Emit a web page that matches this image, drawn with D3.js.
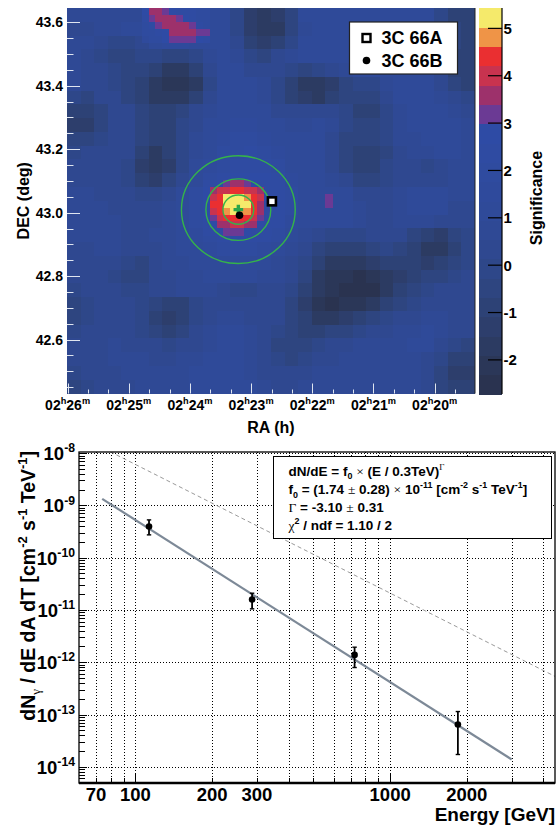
<!DOCTYPE html>
<html>
<head>
<meta charset="utf-8">
<script src="https://cdn.jsdelivr.net/npm/d3@7"></script>
<style>
body { margin: 0; background: #fff; }
svg { display: block; }
text { font-family: "Liberation Sans", Arial, Helvetica, sans-serif; font-weight: bold; fill: #000; }
</style>
</head>
<body>
<svg id="chart" width="556" height="830"></svg>
<script>
// ---------- sky map data ----------
// RA in minutes after 02h, DEC in degrees
const raRange = [26.01, 19.34]
const decRange = [42.43, 43.645]
const raTicksMajor = [26, 25, 24, 23, 22, 21, 20]
const decTicksMajor = [42.6, 42.8, 43.0, 43.2, 43.4, 43.6]
const sigTicks = [-2, -1, 0, 1, 2, 3, 4, 5]
const sigRange = [-2.72, 5.43]

// coarse significance grid (28 rows top->bottom, 30 cols left->right)
const sigRows = [
  [0.8,0.8,0.8,0.8,0.8,0.8,2.5,2.5,2.5,1,1,1,0,-1.2,-1.5,-1.3,-0.5,1,1,1,1,1,1,1,1,1,1,0,-0.8,-0.8],
  [0.5,0.5,0.8,0.8,1,1,2.5,2.5,2.5,2.5,1,1,0,-1.2,-1.7,-1.5,-0.5,0.8,1,1,1,1,1,1,1,1,1,0.5,-0.5,-0.8],
  [0.8,0.8,0.5,0,0,0.5,1,1.5,1.5,1.2,1,1,0.3,-0.8,-1.2,-1,-0.2,1,1,1,1,1,1,1,1,1,1,0.3,-0.5,-0.8],
  [0.8,0.5,0,-0.5,-0.5,0,0,-0.3,-0.3,0,0.8,1,0.8,0,-0.3,0.2,0.6,1,1,1,1,1,1,1,1,1,1,0,-0.8,-1],
  [0.8,0.5,0.2,-0.2,-0.3,-0.5,-1,-1.5,-1.5,-0.8,0.3,1,1,0.5,0.5,0.3,0,-0.3,-0.2,0.3,0.8,1,1,1,1,1,1,0.3,-0.8,-1],
  [0.6,0.3,0.3,0,-0.3,-0.8,-1.8,-2.2,-2.2,-1.5,0,1,1,1,0.8,0,-1,-1.6,-1.8,-1.3,-0.5,-0.2,0,0.6,1,1,1,0.5,-0.3,-0.8],
  [0,-0.3,0.3,0.3,-0.3,-0.8,-1.5,-1.8,-1.5,-0.8,0.3,1,1,1,0.8,0,-0.8,-1.3,-1.5,-1,-0.6,-0.5,-0.3,0.5,1,1,1,0.8,0.3,0],
  [-1,-1,-0.3,0.3,0.2,-0.5,-1,-1,-0.5,0.3,0.8,1,1.2,1.3,1,0.5,0.2,0.3,0.5,0.5,0,-0.8,-0.8,0,0.8,1,1,1,0.8,0.5],
  [-1.3,-1.2,-0.5,0.3,0.3,-0.3,-1,-0.8,-0.2,0.5,1,1.2,1.5,1.5,1.2,1,0.8,0.8,1,0.8,0,-0.5,-0.6,0,0.8,1,1,1,1,0.8],
  [-0.6,-0.5,0,0.5,0.5,-0.3,-1,-0.8,0,0.8,1.2,1.5,1.8,1.8,1.5,1.2,1,1,1,0.5,-0.3,-0.5,-0.5,0,0.6,0.8,1,1,1,0.8],
  [0,0.2,0.5,0.5,0.2,-0.8,-1.5,-1,0,0.8,1.3,1.8,2,2.2,1.8,1.5,1.2,1,1,0.5,-0.3,-1,-1,-0.3,0.5,0.8,0.8,1,1,0.8],
  [0.3,0.5,0.5,0.3,0,-1.2,-1.8,-1.2,0,1,1.5,2,2.3,2.5,2.2,1.8,1.3,1,1,0.5,-0.3,-1,-1,-0.2,0.5,0.3,0,0.3,0.8,0.8],
  [0.5,0.5,0.5,0.3,0,-0.8,-1.2,-0.5,0.5,1.2,2,2.5,2.8,2.8,2.6,2.2,1.5,1.2,1,0.8,0.3,-0.5,-0.6,0,0.5,0.5,0.3,0.5,0.8,0.8],
  [0.6,0.6,0.5,0.5,0.3,0,0,0.5,1.2,1.8,2.5,2.8,2.8,2.8,2.8,2.5,1.8,1.3,1.2,1.2,1,0.5,0.3,0.5,0.8,1,1,1,0.8,0.8],
  [0.6,0.6,0.6,0.5,0.5,0.3,0.3,0.6,1.2,1.8,2.5,2.8,2.8,2.8,2.8,2.5,1.8,1.3,1.2,1.3,1.2,0.8,0.5,0.5,0.8,1,1,1,0.5,0.3],
  [0.6,0.6,0.6,0.6,0.5,0.5,0.5,0.8,1.2,1.8,2.4,2.8,2.8,2.8,2.8,2.2,1.5,1.2,1,1,1,0.8,0.5,0.5,0.6,0.8,0.8,0.5,0.3,0.3],
  [0.6,0.6,0.6,0.6,0.5,0.5,0.6,0.8,1,1.5,2,2.5,2.6,2.5,2.3,1.8,1.2,0.8,0.3,0,-0.2,0,0.3,0.5,0.3,-0.3,-1,-1.2,-0.5,0],
  [0.5,0.5,0.6,0.6,0.3,0.3,0.5,0.8,1,1.2,1.5,1.8,2,1.8,1.5,1.2,0.8,0.3,-0.3,-0.8,-1,-0.8,-0.3,0,-0.3,-0.8,-1.8,-1.8,-0.8,0],
  [0.5,0.5,0.5,0.3,0,-0.3,0.3,0.6,0.8,1,1.2,1.3,1.3,1.2,1,0.8,0.5,0,-0.8,-1.5,-1.8,-1.8,-1.3,-1,-0.8,-0.8,-1.2,-1,-0.5,0],
  [0.3,0.3,0.3,0,-0.5,-0.5,0.2,0.5,0.6,0.8,1,1,1,1,0.8,0.6,0.3,-0.5,-1.5,-2,-2.3,-2.5,-2.2,-1.8,-1.2,-0.8,-0.5,-0.3,0,0.3],
  [0,0.2,0.5,0.3,0,0,0.3,0.5,0.6,0.6,0.6,0.5,0,0,0.3,0.3,0,-0.8,-1.8,-2.3,-2.6,-2.6,-2.4,-1.8,-1,-0.5,0,0.3,0.5,0.5],
  [-0.3,0,0.3,0.3,0.3,0,-0.5,-1,-0.8,0,0.5,0.5,0.3,0.3,0.5,0.3,-0.3,-1.2,-2.2,-2.4,-2.3,-2,-1.5,-1,-0.3,0,0.5,0.5,0.5,0.5],
  [-0.3,0,0.3,0.5,0.3,0,-0.8,-1.3,-1,0,0.5,0.8,0.8,0.5,0.5,0.3,-0.3,-1,-1.8,-1.8,-1.2,-0.8,-0.3,0,0.3,0.5,0.8,0.8,0.5,0.5],
  [0,0.3,0.5,0.5,0.3,0,-0.3,-0.8,-0.5,0.3,0.8,1,1,0.8,0.5,0,-0.5,-0.8,-0.8,-0.5,-0.3,0,0.3,0.5,0.6,0.8,1,0.8,0.5,0.3],
  [0.3,0.5,0.5,0.6,0.5,0.5,0.3,0,0.3,0.5,0.8,1,1,0.8,0.3,-0.3,-0.5,-0.3,0,0.3,0.5,0.6,0.8,0.8,0.8,1,1,0.5,0,-0.3],
  [0.3,0.3,0.5,0.6,0.6,0.6,0.5,0.5,0.6,0.8,1,1,1,0.8,0.3,-0.2,-0.3,0,0.3,0.5,0.8,0.8,0.8,0.8,0.8,0.8,0.5,0,-0.8,-1],
  [0,0.2,0.5,0.5,0.6,0.6,0.6,0.8,0.8,1,1,1,1,0.8,0.5,0.3,0.3,0.5,0.6,0.8,0.8,0.8,0.8,0.8,0.8,0.6,0.3,-0.5,-1.2,-1.2],
  [-0.3,0,0.3,0.5,0.5,0.6,0.6,0.8,0.8,1,1,1,1,1,0.8,0.5,0.5,0.6,0.8,0.8,0.8,0.8,0.8,0.8,0.8,0.6,0.3,-0.3,-1,-1]
]

// fine-bin patches (60 x 56 fine bins over the same field)
const sourceSig = [
  [2.5,2.5,2.8,3.2,3.5,3.5,3.3,2.8,2.5,2.5],
  [2.6,3.5,3.9,4.2,4.3,4.3,4.1,3.9,3.5,2.5],
  [2.8,3.9,4.4,5.1,5.2,5.1,4.8,4.4,3.9,2.6],
  [2.9,4.3,4.6,5.2,5.3,5.3,5.1,4.4,3.5,2.5],
  [2.8,3.9,4.4,4.9,5.1,5.0,4.8,4.3,3.5,2.4],
  [2.6,3.3,4.0,4.4,4.5,4.5,4.3,4.0,3.3,2.4],
  [2.4,2.8,3.4,3.7,3.8,3.8,3.7,3.4,2.8,2.4],
  [2.3,2.5,2.6,3.0,3.1,3.0,2.8,2.5,2.4,2.3]
]
const ridgeSig = [
  [2.6,3.5,3.6,3.3,2.8,2.5,2.3,2.2,2.0,2.0],
  [2.3,3.2,3.6,3.7,3.6,3.3,2.6,2.3,2.1,2.0],
  [2.0,2.4,3.0,3.6,3.7,3.7,3.5,3.1,2.4,2.0],
  [1.8,2.0,2.4,2.9,3.6,3.7,3.6,3.5,3.1,3.0],
  [1.6,1.8,2.0,2.6,3.1,3.2,3.1,3.1,2.8,2.2]
]
const spotSig = [[3.1], [3.1]]

// fitted position and markers
const fitPos = { ra: 23.209, dec: 43.0095 }
const circleRadii = [0.046, 0.097, 0.170]
const sources = [
  { name: '3C 66A', ra: 22.66, dec: 43.0356, symbol: 'square' },
  { name: '3C 66B', ra: 23.19, dec: 42.9919, symbol: 'circle' }
]

// ---------- spectrum data ----------
const energies = [113, 287, 725, 1845]
const flux = [3.94e-10, 1.58e-11, 1.38e-12, 6.44e-14]
const fluxHi = [5.28e-10, 2.09e-11, 1.94e-12, 1.14e-13]
const fluxLo = [2.73e-10, 1.05e-11, 7.92e-13, 1.72e-14]
const fitNorm = 1.74e-11
const fitIndex = -3.10
const fitRange = [74, 3000]
const refNorm = 2.1e-11
const refIndex = -2.46
const energyRange = [60, 4440]
const fluxRange = [4.9e-15, 1.05e-8]
const energyLabels = [70, 100, 200, 300, 1000, 2000]
const decadeExps = [-14, -13, -12, -11, -10, -9, -8]

const palette = [
  '#2a3350', '#2b3758', '#2c3b62', '#2d3e6c', '#2d4276', '#2e4580', '#2e4789',
  '#2f4890', '#2f4995', '#2f4a99', '#2f4a9c', '#2f4b9f', '#2f4ba2', '#2e4ba5',
  '#6b3a94', '#9d316b', '#c8334f', '#ea2f31', '#ef9447', '#f5ea6b'
]

const svg = d3.select('#chart')
const serif = '"Liberation Serif", "Times New Roman", serif'
const px = v => Math.round(v) + 0.5

// text with super/subscripts: parts = [[text, mode, serif?]]
function richText (sel, parts, size) {
  let shift = 0
  parts.forEach(([t, mode, useSerif]) => {
    const target = mode === 'sup' ? -size * 0.42 : mode === 'sub' ? size * 0.28 : 0
    const small = mode === 'sup' || mode === 'sub'
    const ts = sel.append('tspan')
      .attr('dy', target - shift)
      .attr('font-size', small ? size * 0.66 : size)
      .text(t)
    if (useSerif) ts.style('font-family', serif).style('font-weight', 'normal')
    shift = target
  })
}

// ================= TOP PANEL: significance map =================
const mapLeft = 67, mapRight = 475, mapTop = 8, mapBottom = 393.5
const xRa = d3.scaleLinear().domain(raRange).range([mapLeft, mapRight])
const yDec = d3.scaleLinear().domain(decRange).range([mapBottom, mapTop])
const color = d3.scaleQuantize().domain(sigRange).range(palette)

const gMap = svg.append('g').attr('class', 'map')
  .attr('shape-rendering', 'crispEdges')

function drawCells (values, nCols, nRows, col0, row0) {
  const dRa = (raRange[0] - raRange[1]) / nCols
  const dDec = (decRange[1] - decRange[0]) / nRows
  values.forEach((row, r) => {
    row.forEach((v, c) => {
      const x0 = xRa(raRange[0] - (col0 + c) * dRa)
      const x1 = xRa(raRange[0] - (col0 + c + 1) * dRa)
      const y0 = yDec(decRange[1] - (row0 + r) * dDec)
      const y1 = yDec(decRange[1] - (row0 + r + 1) * dDec)
      gMap.append('rect')
        .attr('x', x0).attr('y', y0)
        .attr('width', Math.min(x1 - x0 + 0.6, mapRight - x0))
        .attr('height', Math.min(y1 - y0 + 0.6, mapBottom - y0))
        .attr('fill', color(v))
    })
  })
}
drawCells(sigRows, 30, 28, 0, 0)
drawCells(ridgeSig, 60, 56, 11, 0)
drawCells(sourceSig, 60, 56, 20, 25)
drawCells(spotSig, 60, 56, 38, 27)

// frame right edge
svg.append('line')
  .attr('x1', mapRight).attr('x2', mapRight).attr('y1', mapTop).attr('y2', mapBottom)
  .attr('stroke', '#222').attr('stroke-width', 1)

// ticks (light, drawn inside the map)
const tickColor = '#dfe5f0'
const raMinor = d3.range(19.333, 26.01, 1 / 3).filter(m => m > raRange[1] && m < raRange[0])
const gTicks = svg.append('g').attr('stroke', tickColor).attr('stroke-width', 1)
raMinor.forEach(m => {
  const major = Math.abs(m - Math.round(m)) < 0.01
  gTicks.append('line')
    .attr('x1', px(xRa(m))).attr('x2', px(xRa(m)))
    .attr('y1', mapBottom).attr('y2', mapBottom - (major ? 10 : 4))
})
d3.range(42.45, 43.65, 0.05).forEach(d => {
  const major = Math.abs(d * 5 - Math.round(d * 5)) < 0.01
  gTicks.append('line')
    .attr('x1', mapLeft).attr('x2', mapLeft + (major ? 13 : 6.5))
    .attr('y1', px(yDec(d))).attr('y2', px(yDec(d)))
})

// RA labels
raTicksMajor.forEach(m => {
  const t = svg.append('text')
    .attr('x', xRa(m)).attr('y', 410)
    .attr('text-anchor', 'middle')
  richText(t, [['02'], ['h', 'sup'], [String(m)], ['m', 'sup']], 14)
})
decTicksMajor.forEach(d => {
  svg.append('text')
    .attr('x', 63).attr('y', yDec(d))
    .attr('text-anchor', 'end').attr('dominant-baseline', 'central')
    .attr('font-size', 14)
    .text(d.toFixed(1))
})
svg.append('text')
  .attr('x', (mapLeft + mapRight) / 2).attr('y', 433)
  .attr('text-anchor', 'middle').attr('font-size', 16)
  .text('RA (h)')
svg.append('text')
  .attr('transform', `translate(28.5,${(mapTop + mapBottom) / 2}) rotate(-90)`)
  .attr('text-anchor', 'middle').attr('font-size', 16)
  .text('DEC (deg)')

// exclusion / fit circles
const cosDec = Math.cos(fitPos.dec * Math.PI / 180)
const gFit = svg.append('g')
circleRadii.forEach(r => {
  const rx = Math.abs(xRa(fitPos.ra) - xRa(fitPos.ra + r / (0.25 * cosDec)))
  const ry = Math.abs(yDec(fitPos.dec) - yDec(fitPos.dec + r))
  gFit.append('ellipse')
    .attr('cx', xRa(fitPos.ra)).attr('cy', yDec(fitPos.dec))
    .attr('rx', rx).attr('ry', ry)
    .attr('fill', 'none').attr('stroke', '#35b34a').attr('stroke-width', 1.4)
})

// source markers
sources.forEach(s => {
  const cx = xRa(s.ra), cy = yDec(s.dec)
  if (s.symbol === 'square') {
    svg.append('rect')
      .attr('x', cx - 4).attr('y', cy - 4).attr('width', 8).attr('height', 8)
      .attr('fill', '#fff').attr('stroke', '#000').attr('stroke-width', 2.6)
  } else {
    svg.append('circle')
      .attr('cx', cx).attr('cy', cy).attr('r', 3.8).attr('fill', '#000')
  }
})

// fitted position cross
const fx = xRa(fitPos.ra), fy = yDec(fitPos.dec)
gFit.append('path')
  .attr('d', `M${fx - 4.8},${fy}H${fx + 4.8}M${fx},${fy - 4.8}V${fy + 4.8}`)
  .attr('stroke', '#2aa64a').attr('stroke-width', 3.4)

// legend
const gLeg = svg.append('g')
gLeg.append('rect')
  .attr('x', 349.5).attr('y', 22).attr('width', 108).attr('height', 52)
  .attr('fill', '#fff').attr('stroke', '#222').attr('stroke-width', 1.2)
sources.forEach((s, i) => {
  const ly = 38 + i * 22.5
  if (s.symbol === 'square') {
    gLeg.append('rect')
      .attr('x', 362.5).attr('y', ly - 4).attr('width', 8).attr('height', 8)
      .attr('fill', '#fff').attr('stroke', '#000').attr('stroke-width', 2.4)
  } else {
    gLeg.append('circle').attr('cx', 366.5).attr('cy', ly).attr('r', 3.8).attr('fill', '#000')
  }
  gLeg.append('text')
    .attr('x', 381.5).attr('y', ly + 6.3)
    .attr('font-size', 18)
    .text(s.name)
})

// colour bar
const cbLeft = 478.5, cbRight = 502
const ySig = d3.scaleLinear().domain(sigRange).range([394, 8])
const step = (sigRange[1] - sigRange[0]) / palette.length
const gCb = svg.append('g').attr('shape-rendering', 'crispEdges')
palette.forEach((c, i) => {
  const lo = sigRange[0] + i * step
  gCb.append('rect')
    .attr('x', cbLeft).attr('width', cbRight - cbLeft)
    .attr('y', ySig(lo + step)).attr('height', ySig(lo) - ySig(lo + step) + 0.5)
    .attr('fill', c)
})
svg.append('line')
  .attr('x1', cbRight).attr('x2', cbRight).attr('y1', 8).attr('y2', 394)
  .attr('stroke', '#000').attr('stroke-width', 1.2)
sigTicks.forEach(v => {
  svg.append('line')
    .attr('x1', cbRight - 14).attr('x2', cbRight)
    .attr('y1', ySig(v)).attr('y2', ySig(v))
    .attr('stroke', '#000').attr('stroke-width', 1.2)
  svg.append('text')
    .attr('x', 503.5).attr('y', ySig(v))
    .attr('dominant-baseline', 'central').attr('font-size', 15)
    .text(v < 0 ? '-' + Math.abs(v) : String(v))
})
svg.append('text')
  .attr('transform', 'translate(541.5,198) rotate(-90)')
  .attr('text-anchor', 'middle').attr('font-size', 16)
  .text('Significance')

// ================= BOTTOM PANEL: spectrum =================
const pLeft = 79, pRight = 555, pTop = 452, pBottom = 783
const xE = d3.scaleLog().domain(energyRange).range([pLeft, pRight])
const yF = d3.scaleLog().domain(fluxRange).range([pBottom, pTop])

svg.append('defs').append('clipPath').attr('id', 'plotClip')
  .append('rect').attr('x', pLeft).attr('y', pTop)
  .attr('width', pRight - pLeft).attr('height', pBottom - pTop)

const gridE = []
for (let dec = 10; dec <= 1000; dec *= 10) {
  for (let k = 1; k <= 9; k++) {
    const e = k * dec
    if (e > energyRange[0] && e < energyRange[1]) gridE.push(e)
  }
}
const gGrid = svg.append('g')
  .attr('stroke', '#000').attr('stroke-width', 1).attr('stroke-dasharray', '1,2')
  .attr('shape-rendering', 'crispEdges')
gridE.forEach(e => {
  gGrid.append('line')
    .attr('x1', px(xE(e))).attr('x2', px(xE(e))).attr('y1', pTop).attr('y2', pBottom)
})
decadeExps.forEach(p => {
  const y = px(yF(Math.pow(10, p)))
  gGrid.append('line')
    .attr('x1', pLeft).attr('x2', pRight).attr('y1', y).attr('y2', y)
})

// reference spectrum (dashed) and power-law fit
const gCurves = svg.append('g').attr('clip-path', 'url(#plotClip)')
const refPts = energyRange.map(e => [e, refNorm * Math.pow(e / 1000, refIndex)])
gCurves.append('path')
  .attr('d', d3.line().x(d => xE(d[0])).y(d => yF(d[1]))(refPts))
  .attr('fill', 'none').attr('stroke', '#9a9a9a').attr('stroke-width', 1)
  .attr('stroke-dasharray', '4,3')
const fitPts = fitRange.map(e => [e, fitNorm * Math.pow(e / 300, fitIndex)])
gCurves.append('path')
  .attr('d', d3.line().x(d => xE(d[0])).y(d => yF(d[1]))(fitPts))
  .attr('fill', 'none').attr('stroke', '#7d8997').attr('stroke-width', 2.2)

// data points with error bars
const gPts = svg.append('g')
energies.forEach((e, i) => {
  const x = xE(e)
  gPts.append('line')
    .attr('x1', x).attr('x2', x).attr('y1', yF(fluxHi[i])).attr('y2', yF(fluxLo[i]))
    .attr('stroke', '#000').attr('stroke-width', 1.8)
  ;[fluxHi[i], fluxLo[i]].forEach(f => {
    gPts.append('line')
      .attr('x1', x - 2.2).attr('x2', x + 2.2).attr('y1', yF(f)).attr('y2', yF(f))
      .attr('stroke', '#000').attr('stroke-width', 1.4)
  })
  gPts.append('circle').attr('cx', x).attr('cy', yF(flux[i])).attr('r', 3.3).attr('fill', '#000')
})

// frame and ticks
svg.append('rect')
  .attr('x', pLeft).attr('y', pTop).attr('width', pRight - pLeft).attr('height', pBottom - pTop)
  .attr('fill', 'none').attr('stroke', '#000').attr('stroke-width', 1.3)
svg.append('line')
  .attr('x1', pLeft).attr('x2', pRight).attr('y1', pBottom).attr('y2', pBottom)
  .attr('stroke', '#000').attr('stroke-width', 2.4)

const gAx = svg.append('g').attr('stroke', '#000').attr('stroke-width', 1)
  .attr('shape-rendering', 'crispEdges')
gridE.forEach(e => {
  const major = e === 100 || e === 1000
  gAx.append('line')
    .attr('x1', px(xE(e))).attr('x2', px(xE(e)))
    .attr('y1', pBottom).attr('y2', pBottom - (major ? 9 : 5))
})
for (let p = -15; p <= -8; p++) {
  for (let k = 1; k <= 9; k++) {
    const f = k * Math.pow(10, p)
    if (f < fluxRange[0] || f > fluxRange[1]) continue
    gAx.append('line')
      .attr('x1', pLeft).attr('x2', pLeft + (k === 1 ? 8 : 5.5))
      .attr('y1', px(yF(f))).attr('y2', px(yF(f)))
  }
}

energyLabels.forEach(e => {
  svg.append('text')
    .attr('x', xE(e)).attr('y', 801)
    .attr('text-anchor', 'middle').attr('font-size', 18.5)
    .text(e)
})
decadeExps.forEach(p => {
  const t = svg.append('text')
    .attr('x', 75).attr('y', yF(Math.pow(10, p)) + 7)
    .attr('text-anchor', 'end')
  richText(t, [['10'], [String(p), 'sup']], 18.5)
})
svg.append('text')
  .attr('x', pRight).attr('y', 821)
  .attr('text-anchor', 'end').attr('font-size', 19)
  .text('Energy [GeV]')

const yTitle = svg.append('text')
  .attr('transform', `translate(35,${pTop - 1}) rotate(-90)`)
  .attr('text-anchor', 'end')
richText(yTitle, [
  ['dN'], ['γ', 'sub', true], [' / dE dA dT [cm'], ['-2', 'sup'], [' s'], ['-1', 'sup'],
  [' TeV'], ['-1', 'sup'], [']']
], 19.5)

// fit results box
const gBox = svg.append('g')
gBox.append('rect')
  .attr('x', 273.5).attr('y', 456.5).attr('width', 278).attr('height', 82)
  .attr('fill', '#fff').attr('stroke', '#000').attr('stroke-width', 1)
const boxLines = [
  [['dN/dE = f'], ['0', 'sub'], [' '], ['×', null, true], [' (E / 0.3TeV)'], ['Γ', 'sup', true]],
  [['f'], ['0', 'sub'], [' = (1.74 '], ['±', null, true], [' 0.28) '], ['×', null, true], [' 10'], ['-11', 'sup'],
    [' [cm'], ['-2', 'sup'], [' s'], ['-1', 'sup'], [' TeV'], ['-1', 'sup'], [']']],
  [['Γ', null, true], [' = -3.10 '], ['±', null, true], [' 0.31']],
  [['χ', null, true], ['2', 'sup'], [' / ndf = 1.10 / 2']]
]
const boxBase = [475.5, 494, 512, 530]
boxLines.forEach((parts, i) => {
  const t = gBox.append('text').attr('x', 288.5).attr('y', boxBase[i])
  richText(t, parts, 13.5)
})
</script>
</body>
</html>
